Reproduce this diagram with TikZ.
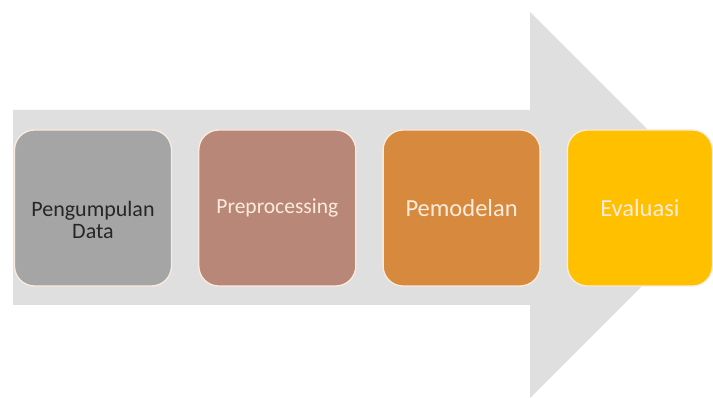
\documentclass[tikz,border=0pt]{standalone}
\usepackage{fontspec}
\setmainfont{Carlito}
\usetikzlibrary{positioning}
\definecolor{arrowgray}{HTML}{DFDFDF}
\definecolor{stonegray}{HTML}{A5A5A5}
\definecolor{clayred}{HTML}{B98777}
\definecolor{amber}{HTML}{D7893E}
\definecolor{gold}{HTML}{FFC000}
\definecolor{cream}{HTML}{FBEBDD}
\definecolor{ink}{HTML}{262626}
\begin{document}
\begin{tikzpicture}[x=1pt,y=-1pt,line join=round,
stage/.style={draw=cream,line width=1.3pt,rounded corners=20pt,minimum width=157pt,minimum height=156pt,inner sep=0pt,align=center,text=cream,font=\fontsize{24.5}{25}\selectfont}]
\clip (0,0) rectangle (713,398);
\fill[arrowgray] (13,110)--(530,110)--(530,12)--(723,205)--(530,398)--(530,305)--(13,305)--cycle;
\node[stage,fill=stonegray,label={[name=collecttext,text=ink,align=center,font=\fontsize{22}{22}\selectfont,yshift=-12pt]center:{Pengumpulan\\Data}}] (collect) at (93,208) {};
\node[stage,fill=clayred,font=\fontsize{21.5}{22}\selectfont,right=26pt of collect] (prep) {Preprocessing};
\node[stage,fill=amber,right=26pt of prep] (model) {Pemodelan};
\node[stage,fill=gold,minimum width=145pt,right=26pt of model] (eval) {Evaluasi};
\end{tikzpicture}
\end{document}
